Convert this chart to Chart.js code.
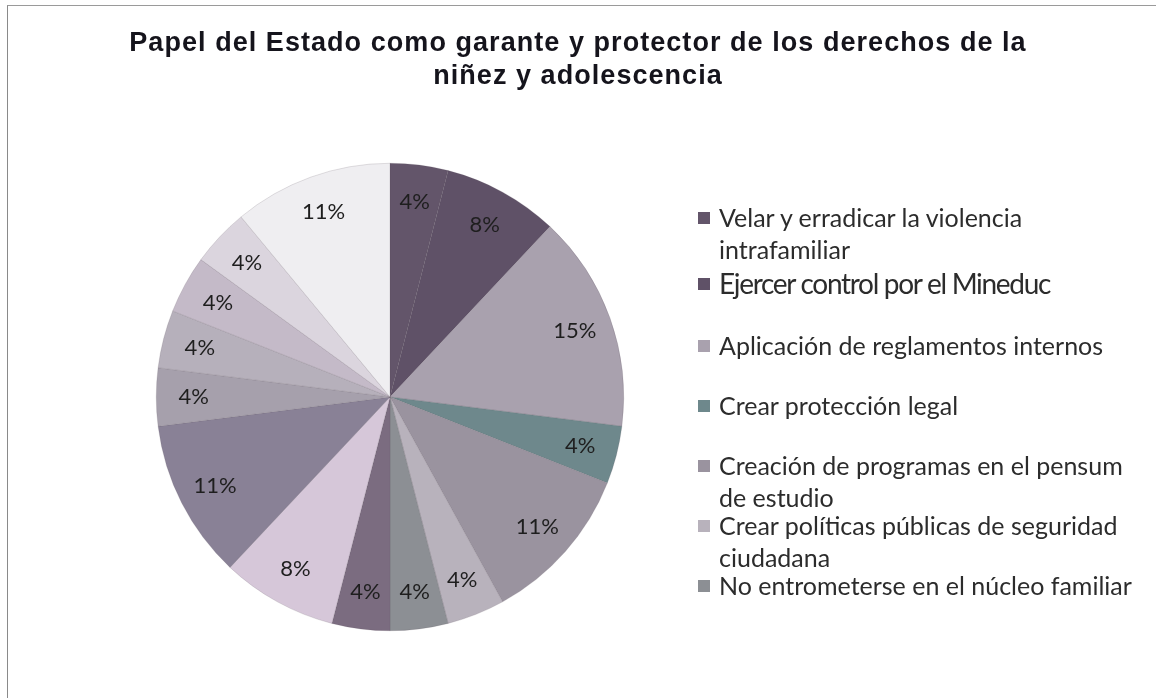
<!DOCTYPE html>
<html>
<head>
<meta charset="utf-8">
<script src="https://cdn.jsdelivr.net/npm/chart.js@4"></script>
<style>
  html, body { margin: 0; padding: 0; background: #fff; }
  #wrap { position: relative; width: 1156px; height: 698px; overflow: hidden; }
  #frame { position: absolute; left: 7px; top: 5px; right: -2px; bottom: -2px;
           border-left: 1px solid #8a8a8a; border-top: 1px solid #9a9a9a; }
  #title { position: absolute; left: 0; width: 1156px; top: 26px; text-align: center;
           font: bold 27px "Liberation Sans", Arial, sans-serif; line-height: 33px;
           letter-spacing: 1.05px; color: #15141c; }
  #chart { position: absolute; left: 0; top: 0; }
  .leg { position: absolute; left: 698px; font-family: Lato, "Open Sans", sans-serif;
         font-size: 25px; line-height: 32px; color: #2c2c2c; white-space: nowrap; }
  .leg i { position: absolute; left: 0; top: 11px; width: 12px; height: 12px; }
  .leg span { display: block; margin-left: 21px; }
</style>
</head>
<body>
<div id="wrap">
  <div id="frame"></div>
  <canvas id="chart" width="1156" height="698"></canvas>
  <div id="title">Papel del Estado como garante y protector de los derechos de la<br>niñez y adolescencia</div>
  <div id="legend"></div>
</div>
<script>
// categories, only the first seven appear in the legend of the original
const categories = [
  ['Velar y erradicar la violencia', 'intrafamiliar'],
  'Ejercer control por el Mineduc',
  'Aplicación de reglamentos internos',
  'Crear protección legal',
  ['Creación de programas en el pensum', 'de estudio'],
  ['Crear políticas públicas de seguridad', 'ciudadana'],
  'No entrometerse en el núcleo familiar',
  'Respuesta 8', 'Respuesta 9', 'Respuesta 10', 'Respuesta 11',
  'Respuesta 12', 'Respuesta 13', 'Respuesta 14', 'Respuesta 15'
];
const percents = [4, 8, 15, 4, 11, 4, 4, 4, 8, 11, 4, 4, 4, 4, 11];
const sliceColors = ['#63556a', '#5f5167', '#a9a1ae', '#6e888c', '#9a939f', '#b8b2bc', '#8c8f94',
  '#7b6c80', '#d6c7d9', '#898196', '#a6a0ac', '#b6b0bb', '#c4bac8', '#dbd5de', '#efeef1'];
const legendCount = 7;

// legend (html text, tops follow the original spacing)
const legendTops = [201, 265, 329, 389, 449, 509, 569];
const legendEl = document.getElementById('legend');
for (let i = 0; i < legendCount; i++) {
  const d = document.createElement('div');
  d.className = 'leg';
  d.style.top = legendTops[i] + 'px';
  const lines = [].concat(categories[i]);
  d.innerHTML = '<i style="background:' + sliceColors[i] + '"></i>' +
    lines.map(t => '<span>' + t + '</span>').join('');
  if (i === 1) {
    d.style.fontSize = '28px';
    d.style.lineHeight = '36px';
    d.style.letterSpacing = '-1.3px';
    d.querySelector('i').style.top = '13px';
  }
  legendEl.appendChild(d);
}

// percent labels inside the slices
const pctLabels = {
  id: 'pctLabels',
  afterDatasetsDraw(chart) {
    const c = chart.ctx;
    const meta = chart.getDatasetMeta(0);
    c.save();
    c.font = '22px Lato, "Open Sans", sans-serif';
    c.fillStyle = '#1e1e1e';
    c.textAlign = 'center';
    c.textBaseline = 'middle';
    meta.data.forEach((arc, i) => {
      const p = arc.getProps(['x', 'y', 'startAngle', 'endAngle', 'outerRadius'], true);
      const mid = (p.startAngle + p.endAngle) / 2;
      const r = p.outerRadius * 0.84;
      c.fillText(percents[i] + '%', p.x + Math.cos(mid) * r, p.y + Math.sin(mid) * r);
    });
    c.restore();
  }
};

new Chart(document.getElementById('chart'), {
  type: 'pie',
  data: {
    labels: categories,
    datasets: [{
      data: percents,
      backgroundColor: sliceColors,
      borderColor: 'rgba(90,80,95,0.35)',
      borderWidth: 0.5
    }]
  },
  options: {
    responsive: false,
    animation: false,
    layout: { padding: { left: 156, right: 532, top: 163, bottom: 67 } },
    plugins: {
      legend: { display: false },
      tooltip: { enabled: false }
    }
  },
  plugins: [pctLabels]
});
</script>
</body>
</html>
